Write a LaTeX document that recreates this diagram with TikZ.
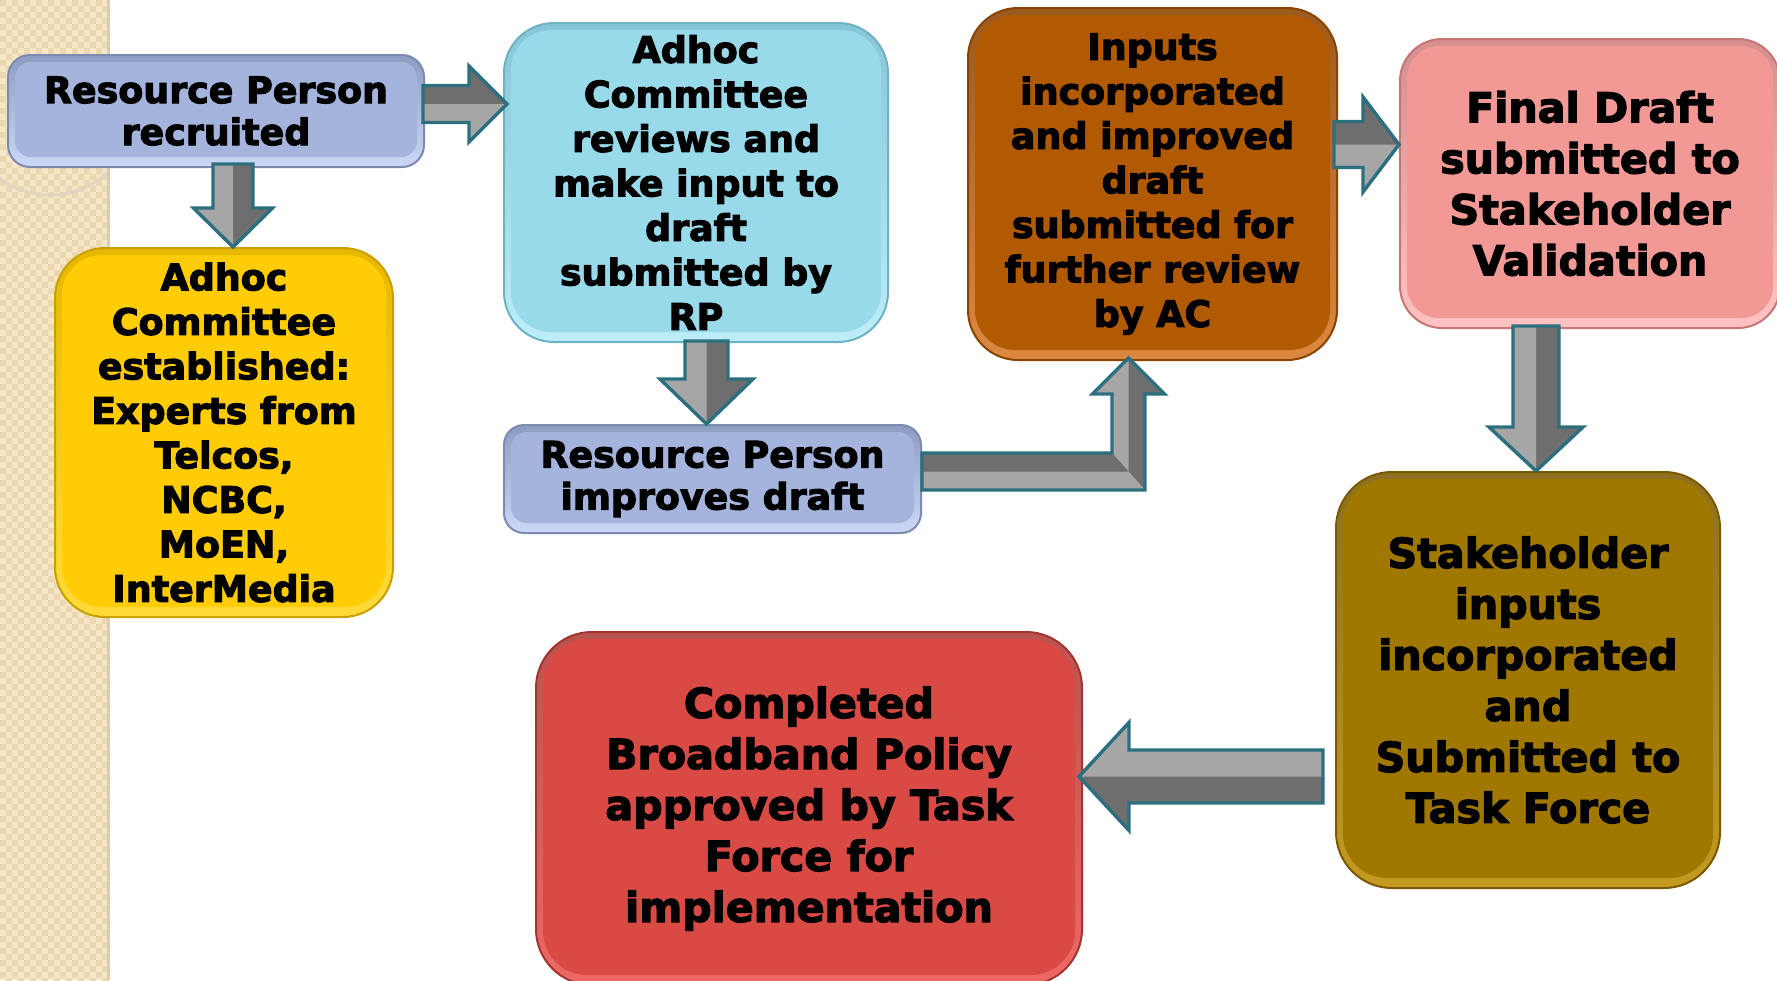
\documentclass[tikz,border=0pt]{standalone}
\usepackage{fontspec}
\newfontfamily\boxfont{DejaVu Sans}[BoldFeatures={FakeBold=3}]
\usetikzlibrary{calc}
\definecolor{stripbase}{HTML}{F5E6C6}
\definecolor{stripdark}{HTML}{EBD8B2}
\definecolor{stripedge}{HTML}{D9CCB2}
\definecolor{blueMid}{HTML}{A4B4DC}\definecolor{blueTop}{HTML}{8D9CC2}\definecolor{blueBot}{HTML}{CBD8F6}\definecolor{blueBd}{HTML}{7D8BB0}
\definecolor{yelMid}{HTML}{FFCC05}\definecolor{yelTop}{HTML}{E8B800}\definecolor{yelBot}{HTML}{FFDB3A}\definecolor{yelBd}{HTML}{C8A000}
\definecolor{cyaMid}{HTML}{98D9EA}\definecolor{cyaTop}{HTML}{86C6D8}\definecolor{cyaBot}{HTML}{BDEDF8}\definecolor{cyaBd}{HTML}{6FB2C4}
\definecolor{oraMid}{HTML}{B25A02}\definecolor{oraTop}{HTML}{9A5A20}\definecolor{oraBot}{HTML}{DC8840}\definecolor{oraBd}{HTML}{8A4300}
\definecolor{pnkMid}{HTML}{F29995}\definecolor{pnkTop}{HTML}{D48F8E}\definecolor{pnkBot}{HTML}{FFC2C2}\definecolor{pnkBd}{HTML}{C67674}
\definecolor{oliMid}{HTML}{A07800}\definecolor{oliTop}{HTML}{8C7020}\definecolor{oliBot}{HTML}{C49A20}\definecolor{oliBd}{HTML}{7A5A00}
\definecolor{redMid}{HTML}{D94A45}\definecolor{redTop}{HTML}{B75450}\definecolor{redBot}{HTML}{EE6864}\definecolor{redBd}{HTML}{A43430}
\definecolor{arrDark}{HTML}{6E6E6E}\definecolor{arrLight}{HTML}{A6A6A6}\definecolor{arrLine}{HTML}{2C6F7E}
\tikzset{
  boxtext/.style={rectangle, align=center, inner sep=0pt, text=black,
    font=\boxfont\bfseries\fontsize{18.2}{22.25}\selectfont},
  smalltext/.style={font=\boxfont\bfseries\fontsize{18.2}{21}\selectfont},
  bigtext/.style={font=\boxfont\bfseries\fontsize{20.6}{25.5}\selectfont},
  glossy/.style n args={5}{top color=#2, bottom color=#3, draw=#4, line width=1pt,
    path picture={\fill[#1, rounded corners=#5]
      ($(path picture bounding box.north west)+(7,7)$) rectangle
      ($(path picture bounding box.south east)+(-7,-10)$);}},
  arrfillD/.style={fill=arrDark},
  arrfillL/.style={fill=arrLight},
  arrline/.style={draw=arrLine, line width=1.7pt, line join=miter},
}
% #1 start, #2 tip, #3 shaft half width, #4 head half width, #5 head length
\newcommand\blockarrow[5]{%
  \coordinate (ah) at ($(#2)!#5!(#1)$);
  \fill[arrfillD] ($(#1)!#3!90:(#2)$) -- ($(ah)!#3!90:(#2)$) -- ($(ah)!#4!90:(#2)$) -- (#2)
     -- ($(ah)!#4!-90:(#2)$) -- ($(ah)!#3!-90:(#2)$) -- ($(#1)!#3!-90:(#2)$) -- cycle;
  \fill[arrfillL] (#1) -- (#2) -- ($(ah)!#4!-90:(#2)$) -- ($(ah)!#3!-90:(#2)$) -- ($(#1)!#3!-90:(#2)$) -- cycle;
  \draw[arrline] ($(#1)!#3!90:(#2)$) -- ($(ah)!#3!90:(#2)$) -- ($(ah)!#4!90:(#2)$) -- (#2)
     -- ($(ah)!#4!-90:(#2)$) -- ($(ah)!#3!-90:(#2)$) -- ($(#1)!#3!-90:(#2)$) -- cycle;
}
\begin{document}
\begin{tikzpicture}[x=0.5pt,y=-0.5pt]
\useasboundingbox (0,0) rectangle (1777,980);
\clip (0,0) rectangle (1777,980);
\fill[white] (0,0) rectangle (1777,980);
% left decorative strip
\fill[stripbase] (0,0) rectangle (109,980);
\foreach \i in {0,...,8}{\foreach \j in {0,...,81}{
  \fill[stripdark] (\i*12,\j*12) rectangle ++(6,6);
  \fill[stripdark] (\i*12+6,\j*12+6) rectangle ++(6,6);}}
\begin{scope}
\clip (0,135) rectangle (109,980);
\draw[stripedge!80, line width=1.5pt] (50,110) circle (85);
\end{scope}
\fill[stripedge] (107,0) rectangle (110,980);

% boxes
\node[boxtext, smalltext, glossy={blueMid}{blueTop}{blueBot}{blueBd}{8pt}, rounded corners=11pt,
  minimum width=208pt, minimum height=56pt] (b1) at (216,111) {Resource Person\\recruited};
\node[boxtext, glossy={yelMid}{yelTop}{yelBot}{yelBd}{20pt}, rounded corners=25pt,
  minimum width=169pt, minimum height=184.5pt] (adhoc) at (224,432.5)
  {Adhoc\\Committee\\established:\\Experts from\\Telcos,\\NCBC,\\MoEN,\\InterMedia};
\node[boxtext, glossy={cyaMid}{cyaTop}{cyaBot}{cyaBd}{20pt}, rounded corners=25pt,
  minimum width=192pt, minimum height=159.5pt] (review) at (696,182.5)
  {Adhoc\\Committee\\reviews and\\make input to\\draft\\submitted by\\RP};
\node[boxtext, smalltext, glossy={blueMid}{blueTop}{blueBot}{blueBd}{8pt}, rounded corners=10pt,
  minimum width=208.5pt, minimum height=54pt] (rp2) at (712.5,479) {Resource Person\\improves draft};
\node[boxtext, glossy={oraMid}{oraTop}{oraBot}{oraBd}{20pt}, rounded corners=25pt,
  minimum width=184.5pt, minimum height=176pt] (inputs) at (1152.5,184)
  {Inputs\\incorporated\\and improved\\draft\\submitted for\\further review\\by AC};
\node[boxtext, bigtext, glossy={pnkMid}{pnkTop}{pnkBot}{pnkBd}{16pt}, rounded corners=21pt,
  minimum width=190pt, minimum height=144.5pt] (final) at (1590,183.5)
  {Final Draft\\submitted to\\Stakeholder\\Validation};
\node[boxtext, bigtext, glossy={oliMid}{oliTop}{oliBot}{oliBd}{22pt}, rounded corners=28pt,
  minimum width=192pt, minimum height=208pt] (olive) at (1528,680)
  {Stakeholder\\inputs\\incorporated\\and\\Submitted to\\Task Force};
\node[boxtext, bigtext, glossy={redMid}{redTop}{redBot}{redBd}{22pt}, rounded corners=28pt,
  minimum width=273pt, minimum height=176.5pt] (done) at (809,808.5)
  {Completed\\Broadband Policy\\approved by Task\\Force for\\implementation};

% straight block arrows
\coordinate (a1s) at ($(b1.east)+(-2,-7)$);
\coordinate (a1t) at ($(a1s -| review.west)+(4,0)$);
\blockarrow{a1s}{a1t}{9.25pt}{19pt}{19pt}

\coordinate (a2s) at ($(b1.south)+(17,-4)$);
\coordinate (a2t) at (a2s |- adhoc.north);
\blockarrow{a2s}{a2t}{10pt}{19.75pt}{19.5pt}

\coordinate (a3s) at ($(review.south)+(10.5,-2)$);
\coordinate (a3t) at (a3s |- rp2.north);
\blockarrow{a3s}{a3t}{10.75pt}{23.25pt}{22.5pt}

\coordinate (a5s) at ($(inputs.east)+(-4,-39.5)$);
\coordinate (a5t) at (a5s -| final.west);
\blockarrow{a5s}{a5t}{11.5pt}{23.75pt}{18pt}

\coordinate (a6s) at ($(final.south)+(-54,-3)$);
\coordinate (a6t) at (a6s |- olive.north);
\blockarrow{a6s}{a6t}{11.5pt}{23.5pt}{22pt}

\coordinate (a7s) at ($(olive.west)+(-12,96.5)$);
\coordinate (a7t) at ($(a7s -| done.east)+(-4,0)$);
\blockarrow{a7s}{a7t}{13.25pt}{27pt}{25pt}

% elbow arrow rp2 -> inputs
\coordinate (es) at ($(rp2.east)+(0,-7.5)$);
\coordinate (et) at ($(inputs.south)+(-24,-3)$);
\coordinate (ec) at (et |- es);
\fill[arrfillD] ($(es)+(0,-18.5)$) -- ($(ec)+(-16.5,-18.5)$) -- ($(et)+(-16.5,36)$) -- ($(et)+(-36,36)$)
  -- (et) -- ($(et)+(36,36)$) -- ($(et)+(16.5,36)$) -- ($(ec)+(16.5,18.5)$) -- ($(es)+(0,18.5)$) -- cycle;
\fill[arrfillL] (es) -- (ec) -- (et) -- ($(et)+(-36,36)$) -- ($(et)+(-16.5,36)$) -- ($(ec)+(-16.5,-18.5)$) -- ($(es)+(0,-18.5)$) -- cycle;
\fill[arrfillL] (es) -- (ec) -- ($(ec)+(16.5,18.5)$) -- ($(es)+(0,18.5)$) -- cycle;
\fill[arrfillD] (es) -- (ec) -- ($(ec)+(-16.5,-18.5)$) -- ($(es)+(0,-18.5)$) -- cycle;
\draw[arrline] ($(es)+(0,-18.5)$) -- ($(ec)+(-16.5,-18.5)$) -- ($(et)+(-16.5,36)$) -- ($(et)+(-36,36)$)
  -- (et) -- ($(et)+(36,36)$) -- ($(et)+(16.5,36)$) -- ($(ec)+(16.5,18.5)$) -- ($(es)+(0,18.5)$) -- cycle;
\end{tikzpicture}
\end{document}
